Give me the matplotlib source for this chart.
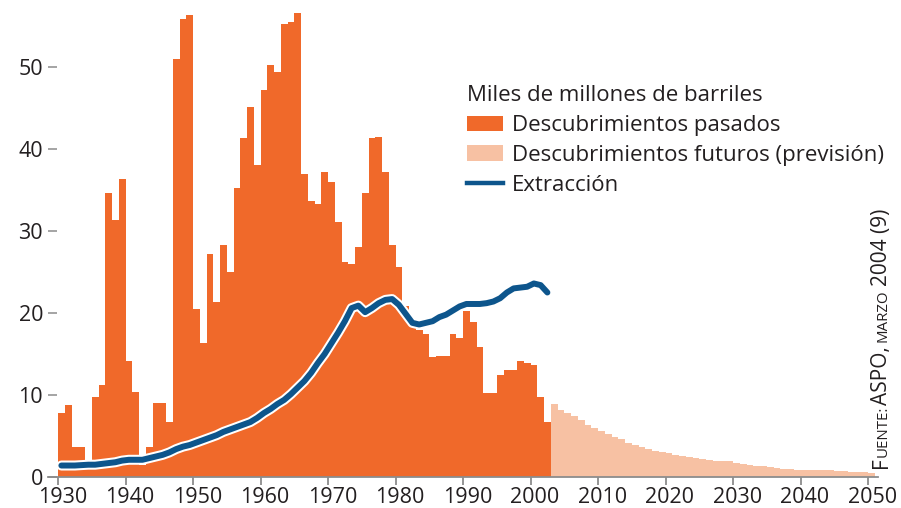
import matplotlib
matplotlib.use("Agg")
import matplotlib.pyplot as plt
import matplotlib.transforms as mtransforms
from matplotlib.patches import Patch
from matplotlib.lines import Line2D
import numpy as np

# ---------------- data ----------------
past_years = list(range(1930, 2003))
past_values = [
    7.8, 8.8, 3.7, 3.7, 1.2, 9.8, 11.2, 34.6, 31.3, 36.3,      # 1930-1939
    14.1, 10.4, 1.5, 3.7, 9.0, 9.0, 6.7, 51.0, 55.9, 56.3,     # 1940-1949
    20.5, 16.3, 27.2, 21.3, 28.3, 25.0, 35.2, 41.3, 45.1, 38.1,  # 1950-1959
    47.2, 50.3, 49.4, 55.2, 55.5, 56.6, 37.0, 33.7, 33.3, 37.2,  # 1960-1969
    36.0, 31.1, 26.2, 26.0, 28.0, 34.6, 41.3, 41.5, 37.2, 28.3,  # 1970-1979
    25.6, 20.9, 19.0, 17.9, 17.5, 14.6, 14.7, 14.8, 17.5, 16.9,  # 1980-1989
    20.3, 18.9, 15.9, 10.2, 10.2, 12.4, 13.0, 13.0, 14.2, 13.9,  # 1990-1999
    13.6, 9.8, 6.7,                                              # 2000-2002
]
future_years = list(range(2003, 2051))
future_values = [
    8.9, 8.2, 7.8, 7.4, 7.0, 6.3, 6.0, 5.6, 5.3, 4.9,   # 2003-2012
    4.6, 4.2, 3.9, 3.6, 3.4, 3.2, 3.0, 2.9, 2.7, 2.6,   # 2013-2022
    2.4, 2.3, 2.2, 2.1, 2.0, 1.9, 1.9, 1.7, 1.6, 1.5,   # 2023-2032
    1.35, 1.3, 1.2, 1.1, 1.0, 1.0, 0.9, 0.9, 0.85, 0.85,  # 2033-2042
    0.8, 0.8, 0.7, 0.7, 0.65, 0.6, 0.6, 0.5,            # 2043-2050
]
extraction_years = list(range(1930, 2003))
extraction_values = [
    1.4, 1.4, 1.4, 1.45, 1.5, 1.5, 1.6, 1.7, 1.8, 2.0,    # 1930-1939
    2.1, 2.1, 2.1, 2.3, 2.5, 2.7, 3.0, 3.4, 3.7, 3.9,     # 1940-1949
    4.2, 4.5, 4.8, 5.1, 5.5, 5.8, 6.1, 6.4, 6.7, 7.2,     # 1950-1959
    7.8, 8.3, 8.9, 9.4, 10.1, 10.9, 11.7, 12.7, 13.9, 15.0,  # 1960-1969
    16.3, 17.6, 19.0, 20.6, 20.9, 20.1, 20.6, 21.2, 21.6, 21.7,  # 1970-1979
    21.0, 19.9, 18.8, 18.6, 18.8, 19.0, 19.5, 19.8, 20.3, 20.8,  # 1980-1989
    21.1, 21.1, 21.1, 21.2, 21.4, 21.8, 22.5, 23.0, 23.1, 23.2,  # 1990-1999
    23.6, 23.4, 22.5,                                            # 2000-2002
]
x_ticks = [1930, 1940, 1950, 1960, 1970, 1980, 1990, 2000, 2010, 2020, 2030, 2040, 2050]
y_ticks = [0, 10, 20, 30, 40, 50]
legend_title = "Miles de millones de barriles"
legend_labels = ["Descubrimientos pasados",
                 "Descubrimientos futuros (previsión)",
                 "Extracción"]
source_parts = [("F", "big"), ("UENTE:", "small"), ("ASPO,", "big"),
                ("MARZO", "small"), ("2004 (9)", "big")]

# ---------------- style ----------------
ORANGE = "#f0692a"
LIGHT = "#f7c1a3"
BLUE = "#0d558c"
TEXT = "#231f20"
GREY = "#8c8c8c"
FONT = ["Open Sans", "DejaVu Sans"]
plt.rcParams["font.family"] = FONT

W, H = 901, 508
DPI = 100
fig = plt.figure(figsize=(W / DPI, H / DPI), dpi=DPI)
fig.patch.set_facecolor("white")

PX_YEAR = 6.75
PX_UNIT = 8.2
x0, x1 = 1928.5, 2051.5
y0, y1 = 0, 57.5
left_px = 58 - (1930 - x0) * PX_YEAR
width_px = (x1 - x0) * PX_YEAR
base_px = 477
height_px = (y1 - y0) * PX_UNIT
ax = fig.add_axes([left_px / W, (H - base_px) / H, width_px / W, height_px / H])
ax.set_xlim(x0, x1)
ax.set_ylim(y0, y1)
ax.set_facecolor("none")

# bars (one step polygon per series so there are no seams)
ax.stairs(past_values, edges=past_years + [past_years[-1] + 1], fill=True,
          color=ORANGE, linewidth=0, zorder=1)
ax.stairs(future_values, edges=future_years + [future_years[-1] + 1], fill=True,
          color=LIGHT, linewidth=0, zorder=1)

# extraction line with white halo
ex = np.array(extraction_years) + 0.5
ax.plot(ex, extraction_values, color="white", lw=7.2, solid_capstyle="round",
        solid_joinstyle="round", zorder=3)
ax.plot(ex, extraction_values, color=BLUE, lw=4.3, solid_capstyle="round",
        solid_joinstyle="round", zorder=4)

# axes styling
for s in ["top", "right", "left"]:
    ax.spines[s].set_visible(False)
ax.spines["bottom"].set_color(GREY)
ax.spines["bottom"].set_linewidth(1.3)
ax.spines["bottom"].set_zorder(5)

FS_TICK = 15.5
ax.set_xticks(x_ticks)
ax.set_xticklabels([str(t) for t in x_ticks])
ax.tick_params(axis="x", direction="out", length=6, width=1.3, color=GREY,
               labelsize=FS_TICK, labelcolor=TEXT, pad=1.5)
ax.set_yticks(y_ticks)
ax.set_yticklabels([str(t) for t in y_ticks])
ax.tick_params(axis="y", direction="in", length=6.5, width=1.1, color=GREY,
               labelsize=FS_TICK, labelcolor=TEXT, pad=3.5)
shift = mtransforms.ScaledTranslation(4.5 / DPI, 0, fig.dpi_scale_trans)
for lab in ax.get_xticklabels():
    lab.set_transform(lab.get_transform() + shift)

# legend
FS = 16
handles = [Patch(facecolor=ORANGE, edgecolor="none"),
           Patch(facecolor=LIGHT, edgecolor="none"),
           Line2D([], [], color=BLUE, lw=3.2)]
fs_px = FS * DPI / 72
BP = 0.65
leg = ax.legend(handles, legend_labels, title=legend_title,
                loc="upper left",
                bbox_to_anchor=((467 - BP * fs_px) / W, 1 - (85 - BP * fs_px) / H),
                bbox_transform=fig.transFigure, frameon=False,
                prop={"size": FS, "family": FONT},
                title_fontproperties={"size": FS, "family": FONT},
                alignment="left", borderpad=BP, borderaxespad=0,
                handlelength=36 / fs_px, handleheight=15 / fs_px,
                handletextpad=9 / fs_px, labelspacing=0.40)
for t in leg.get_texts():
    t.set_color(TEXT)
leg.get_title().set_color(TEXT)

# rotated source note with small caps
renderer = fig.canvas.get_renderer()
sx = 887 / W
sy_px = H - 468
sizes = {"big": 15, "small": 10.8}
gaps = [0, 0, 1, 4, 4]
for (txt, kind), gap in zip(source_parts, gaps):
    sy_px += gap
    t = fig.text(sx, sy_px / H, txt, rotation=90, rotation_mode="anchor",
                 ha="left", va="baseline", fontsize=sizes[kind], color=TEXT,
                 family=FONT)
    bb = t.get_window_extent(renderer)
    sy_px += bb.height

fig.savefig("out.png", dpi=DPI, facecolor="white")
